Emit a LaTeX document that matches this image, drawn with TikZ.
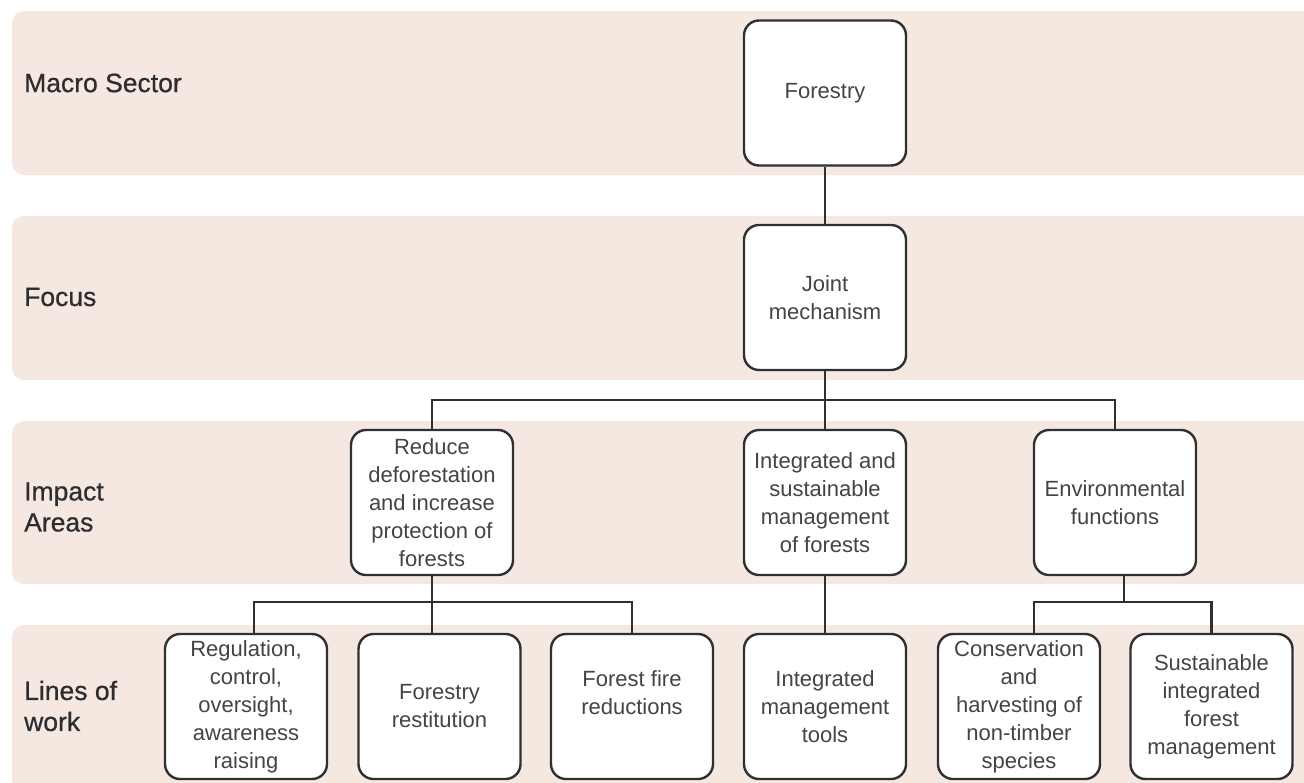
\documentclass[tikz,border=0pt]{standalone}
\usepackage{fontspec}
\setmainfont{Liberation Sans}
\newfontfamily\labfont[FakeBold=0.6]{Liberation Sans}
\definecolor{bandcol}{HTML}{F5E8E1}
\definecolor{linecol}{HTML}{2E3034}
\definecolor{labcol}{HTML}{2B2D31}
\definecolor{boxtext}{HTML}{444446}
\begin{document}
\begin{tikzpicture}[x=1pt,y=-1pt,
  band/.style={fill=bandcol, rounded corners=12pt},
  rowlabel/.style={anchor=west, align=left, inner sep=0pt, text=labcol,
    font=\labfont\fontsize{26.5}{31}\selectfont},
  box/.style={draw=linecol, line width=2.4pt, fill=white, rounded corners=15pt,
    minimum width=162pt, minimum height=145pt, inner sep=0pt, align=center,
    text=boxtext, font=\fontsize{22}{28}\selectfont},
  conn/.style={draw=linecol, line width=2.4pt}]
\useasboundingbox (0,0) rectangle (1304,782);
% bands
\path[band] (1340,11) -- (12,11) -- (12,175) -- (1340,175) -- cycle;
\path[band] (1340,216) -- (12,216) -- (12,380) -- (1340,380) -- cycle;
\path[band] (1340,421) -- (12,421) -- (12,584) -- (1340,584) -- cycle;
\path[band] (1340,625) -- (12,625) -- (12,820) -- (1340,820) -- cycle;
% row labels
\node[rowlabel] (lmacro) at (24,83) {Macro Sector};
\node[rowlabel] (lfocus) at (24,297) {Focus};
\node[rowlabel] (limpact) at (24,507) {Impact\\Areas};
\node[rowlabel] (llines) at (24,706) {Lines of\\work};
% boxes
\node[box] (forestry) at (825,93) {Forestry};
\node[box] (joint) at (825,297.5) {Joint\\mechanism};
\node[box] (reduce) at (432,502.5) {Reduce\\deforestation\\and increase\\protection of\\forests};
\node[box] (integ) at (825,502.5) {Integrated and\\sustainable\\management\\of forests};
\node[box] (env) at (1115,502.5) {Environmental\\functions};
\node[box] (w1) at (246,706.5) {Regulation,\\control,\\oversight,\\awareness\\raising};
\node[box] (w2) at (439.5,706.5) {Forestry\\restitution};
\node[box] (w3) at (632,706.5) {Forest fire\\reductions\\\mbox{}};
\node[box] (w4) at (825,706.5) {Integrated\\management\\tools};
\node[box] (w5) at (1019,706.5) {Conservation\\and\\harvesting of\\non-timber\\species};
\node[box] (w6) at (1211.5,706.5) {Sustainable\\integrated\\forest\\management};
% junctions
\coordinate (jj) at (825,400);
\coordinate (jr) at (432,602);
\coordinate (je) at (1124,602);
% connectors
\draw[conn] (forestry) -- (joint);
\draw[conn] (joint.south) -- (jj);
\draw[conn] (reduce.north) |- (jj) -| (env.north);
\draw[conn] (jj) -- (integ.north);
\draw[conn] (reduce.south) -- (jr);
\draw[conn] ([xshift=8pt]w1.north) |- (jr) -| (w3.north);
\draw[conn] (jr) -- ([xshift=-7.5pt]w2.north);
\draw[conn] (integ) -- (w4);
\draw[conn] ([xshift=9pt]env.south) -- (je);
\draw[conn] ([xshift=15pt]w5.north) |- (je) -| (w6.north);
\end{tikzpicture}
\end{document}
